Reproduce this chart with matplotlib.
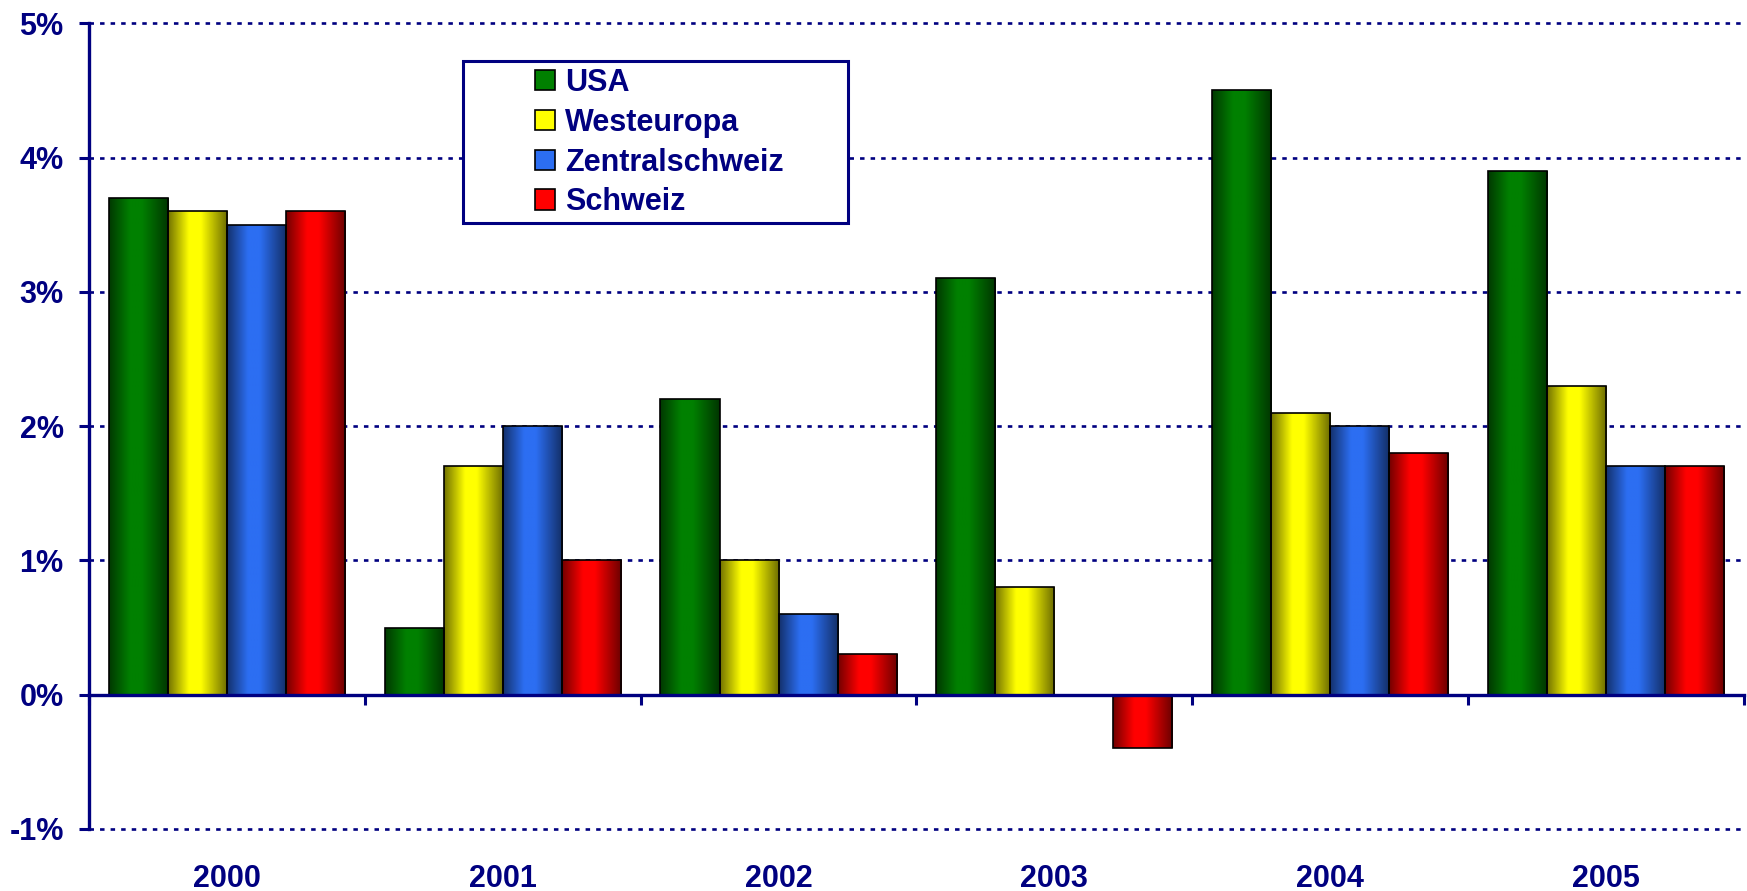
import numpy as np
import matplotlib
matplotlib.use('Agg')
import matplotlib.pyplot as plt
import matplotlib.colors as mcolors
from matplotlib.patches import Patch, Rectangle

# data (percent growth)
years = ['2000', '2001', '2002', '2003', '2004', '2005']
series = ['USA', 'Westeuropa', 'Zentralschweiz', 'Schweiz']
usa = [3.7, 0.5, 2.2, 3.1, 4.5, 3.9]
westeuropa = [3.6, 1.7, 1.0, 0.8, 2.1, 2.3]
zentralschweiz = [3.5, 2.0, 0.6, np.nan, 2.0, 1.7]
schweiz = [3.6, 1.0, 0.3, -0.4, 1.8, 1.7]
ytick_vals = [-1, 0, 1, 2, 3, 4, 5]

colors = ['#008000', '#FFFF00', '#2C6EF2', '#FF0000']
navy = '#000080'

plt.rcParams['font.family'] = ['Liberation Sans', 'DejaVu Sans']
plt.rcParams['font.weight'] = 'bold'


def shade(ax, bar, color):
    # cylinder-like horizontal gradient, clipped to the bar
    h = bar.get_height()
    if not np.isfinite(h) or h == 0:
        return
    x, y, w = bar.get_x(), bar.get_y(), bar.get_width()
    t = np.linspace(0, 1, 80)
    prof = np.interp(t, [0, 0.35, 0.55, 1], [0.45, 1, 1, 0.42])
    rgb = np.array(mcolors.to_rgb(color))
    img = (prof[:, None] * rgb[None, :])[None, :, :]
    im = ax.imshow(img, extent=(x, x + w, min(y, y + h), max(y, y + h)),
                   aspect='auto', interpolation='bilinear', zorder=2.5)
    im.set_clip_path(bar)


fig = plt.figure(figsize=(17.47, 8.91), dpi=100)
ax = fig.add_axes([0.0509, 0.0696, 0.9474, 0.9042])

x = np.arange(len(years))
width = 0.214
all_vals = [usa, westeuropa, zentralschweiz, schweiz]
for i, (vals, c) in enumerate(zip(all_vals, colors)):
    bars = ax.bar(x + (i - 1.5) * width, vals, width, facecolor='none',
                  edgecolor='black', linewidth=1.2, zorder=3)
    for b in bars:
        shade(ax, b, c)

ax.set_xlim(-0.5, len(years) - 0.5)
ax.set_ylim(-1, 5)

# y axis
ax.set_yticks(ytick_vals)
ax.set_yticklabels([f'{v}%' for v in ytick_vals], fontsize=22,
                   fontweight='bold', color=navy)
ax.tick_params(axis='y', direction='out', length=7.2, width=2.2,
               color=navy, pad=11)
ax.yaxis.grid(True, color=navy, linewidth=1.9, linestyle=(0, (1.7, 2.3)))
ax.set_axisbelow(True)
for gl in ax.yaxis.get_gridlines():
    gl.set_clip_on(False)

# x axis: line at zero, ticks on category boundaries
ax.spines['bottom'].set_position(('data', 0))
ax.set_xticks(np.arange(len(years) + 1) - 0.5)
ax.set_xticklabels([])
ax.tick_params(axis='x', direction='out', length=7.2, width=2.2, color=navy)
for t, lab in zip(x, years):
    ax.text(t, -0.062, lab, transform=ax.get_xaxis_transform(),
            ha='center', va='center', fontsize=22, fontweight='bold',
            color=navy)

for s in ['top', 'right']:
    ax.spines[s].set_visible(False)
for s in ['left', 'bottom']:
    ax.spines[s].set_color(navy)
    ax.spines[s].set_linewidth(2.4)
    ax.spines[s].set_zorder(4)

# legend, frame drawn separately
W, H = 1747, 891
frame = Rectangle((463 / W, 1 - 223 / H), (848 - 463) / W, (223 - 61) / H,
                  transform=fig.transFigure, fill=True, facecolor='white',
                  edgecolor=navy, linewidth=2.2, zorder=5)
fig.patches.append(frame)
handles = [Patch(facecolor=c, edgecolor='black', linewidth=1.2) for c in colors]
leg = fig.legend(handles, series, loc='upper left',
                 bbox_to_anchor=(535 / W, 1 - 68 / H), frameon=False,
                 fontsize=22, handlelength=0.65, handleheight=0.65,
                 handletextpad=0.33, labelspacing=0.32, borderpad=0,
                 borderaxespad=0)
leg.set_zorder(6)
for txt in leg.get_texts():
    txt.set_color(navy)
    txt.set_fontweight('bold')

fig.savefig('out.png', dpi=100)
